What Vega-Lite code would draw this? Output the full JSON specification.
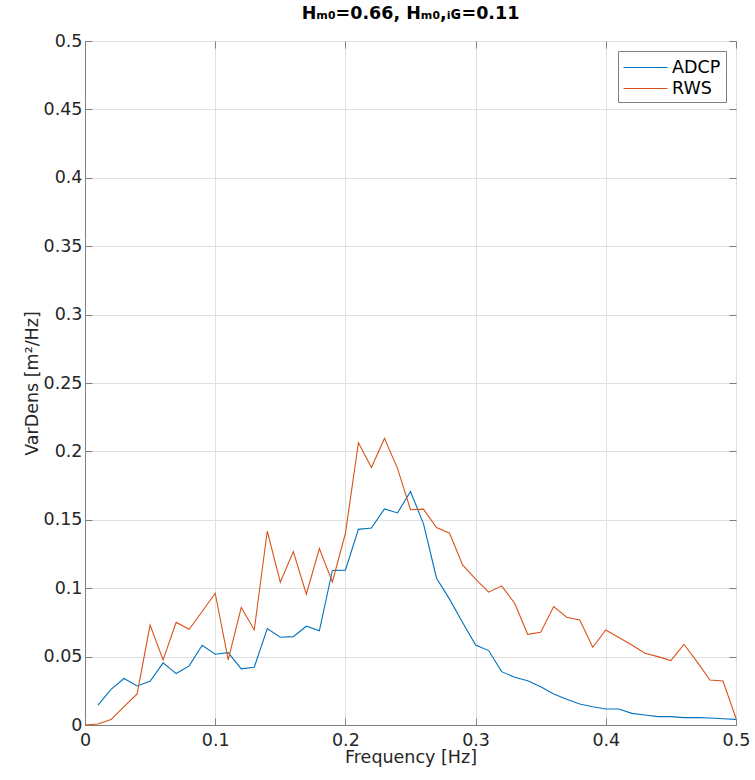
{
  "$schema": "https://vega.github.io/schema/vega-lite/v6.json",
  "autosize": {"type": "none"},
  "padding": {"left": 85, "top": 41, "right": 19, "bottom": 55},
  "width": 651,
  "height": 684,
  "background": "white",
  "title": {
    "text": "Hₘ₀=0.66, Hₘ₀,ᵢɢ=0.11",
    "font": "DejaVu Sans",
    "fontSize": 17.5,
    "fontWeight": "bold",
    "color": "#000000",
    "offset": 10
  },
  "config": {
    "font": "DejaVu Sans",
    "view": {"stroke": "#808080", "strokeWidth": 1},
    "axis": {
      "domainColor": "#808080",
      "tickColor": "#808080",
      "gridColor": "#e0e0e0",
      "labelColor": "#262626",
      "titleColor": "#262626",
      "labelFont": "DejaVu Sans",
      "titleFont": "DejaVu Sans",
      "labelFontSize": 17.5,
      "titleFontSize": 17.5,
      "titleFontWeight": "normal"
    }
  },
  "data": {
    "values": [
      {"f": 0.01, "series": "ADCP", "v": 0.0146},
      {"f": 0.02, "series": "ADCP", "v": 0.026},
      {"f": 0.03, "series": "ADCP", "v": 0.034},
      {"f": 0.04, "series": "ADCP", "v": 0.0285},
      {"f": 0.05, "series": "ADCP", "v": 0.032},
      {"f": 0.06, "series": "ADCP", "v": 0.0454},
      {"f": 0.07, "series": "ADCP", "v": 0.0376},
      {"f": 0.08, "series": "ADCP", "v": 0.0432},
      {"f": 0.09, "series": "ADCP", "v": 0.0583},
      {"f": 0.10, "series": "ADCP", "v": 0.0517},
      {"f": 0.11, "series": "ADCP", "v": 0.0529},
      {"f": 0.12, "series": "ADCP", "v": 0.041},
      {"f": 0.13, "series": "ADCP", "v": 0.0422},
      {"f": 0.14, "series": "ADCP", "v": 0.0705},
      {"f": 0.15, "series": "ADCP", "v": 0.0641},
      {"f": 0.16, "series": "ADCP", "v": 0.0646},
      {"f": 0.17, "series": "ADCP", "v": 0.0722},
      {"f": 0.18, "series": "ADCP", "v": 0.0688},
      {"f": 0.19, "series": "ADCP", "v": 0.113},
      {"f": 0.20, "series": "ADCP", "v": 0.1132},
      {"f": 0.21, "series": "ADCP", "v": 0.143},
      {"f": 0.22, "series": "ADCP", "v": 0.144},
      {"f": 0.23, "series": "ADCP", "v": 0.1579},
      {"f": 0.24, "series": "ADCP", "v": 0.155},
      {"f": 0.25, "series": "ADCP", "v": 0.1707},
      {"f": 0.26, "series": "ADCP", "v": 0.147},
      {"f": 0.27, "series": "ADCP", "v": 0.1073},
      {"f": 0.28, "series": "ADCP", "v": 0.092},
      {"f": 0.29, "series": "ADCP", "v": 0.0749},
      {"f": 0.30, "series": "ADCP", "v": 0.0585},
      {"f": 0.31, "series": "ADCP", "v": 0.0544},
      {"f": 0.32, "series": "ADCP", "v": 0.039},
      {"f": 0.33, "series": "ADCP", "v": 0.0349},
      {"f": 0.34, "series": "ADCP", "v": 0.0324},
      {"f": 0.35, "series": "ADCP", "v": 0.028},
      {"f": 0.36, "series": "ADCP", "v": 0.0227},
      {"f": 0.37, "series": "ADCP", "v": 0.0188},
      {"f": 0.38, "series": "ADCP", "v": 0.0154},
      {"f": 0.39, "series": "ADCP", "v": 0.0134},
      {"f": 0.40, "series": "ADCP", "v": 0.0117},
      {"f": 0.41, "series": "ADCP", "v": 0.0117},
      {"f": 0.42, "series": "ADCP", "v": 0.0085},
      {"f": 0.43, "series": "ADCP", "v": 0.0073},
      {"f": 0.44, "series": "ADCP", "v": 0.0061},
      {"f": 0.45, "series": "ADCP", "v": 0.0061},
      {"f": 0.46, "series": "ADCP", "v": 0.0054},
      {"f": 0.47, "series": "ADCP", "v": 0.0054},
      {"f": 0.48, "series": "ADCP", "v": 0.0051},
      {"f": 0.49, "series": "ADCP", "v": 0.0046},
      {"f": 0.50, "series": "ADCP", "v": 0.0041},
      {"f": 0.00, "series": "RWS", "v": 0.0},
      {"f": 0.01, "series": "RWS", "v": 0.0007},
      {"f": 0.02, "series": "RWS", "v": 0.004},
      {"f": 0.03, "series": "RWS", "v": 0.0134},
      {"f": 0.04, "series": "RWS", "v": 0.0227},
      {"f": 0.05, "series": "RWS", "v": 0.073},
      {"f": 0.06, "series": "RWS", "v": 0.0476},
      {"f": 0.07, "series": "RWS", "v": 0.075},
      {"f": 0.08, "series": "RWS", "v": 0.070},
      {"f": 0.09, "series": "RWS", "v": 0.083},
      {"f": 0.10, "series": "RWS", "v": 0.0963},
      {"f": 0.11, "series": "RWS", "v": 0.0476},
      {"f": 0.12, "series": "RWS", "v": 0.086},
      {"f": 0.13, "series": "RWS", "v": 0.0695},
      {"f": 0.14, "series": "RWS", "v": 0.1418},
      {"f": 0.15, "series": "RWS", "v": 0.1044},
      {"f": 0.16, "series": "RWS", "v": 0.1268},
      {"f": 0.17, "series": "RWS", "v": 0.0956},
      {"f": 0.18, "series": "RWS", "v": 0.129},
      {"f": 0.19, "series": "RWS", "v": 0.1046},
      {"f": 0.20, "series": "RWS", "v": 0.140},
      {"f": 0.21, "series": "RWS", "v": 0.2063},
      {"f": 0.22, "series": "RWS", "v": 0.1883},
      {"f": 0.23, "series": "RWS", "v": 0.2095},
      {"f": 0.24, "series": "RWS", "v": 0.1876},
      {"f": 0.25, "series": "RWS", "v": 0.1574},
      {"f": 0.26, "series": "RWS", "v": 0.1578},
      {"f": 0.27, "series": "RWS", "v": 0.1444},
      {"f": 0.28, "series": "RWS", "v": 0.1402},
      {"f": 0.29, "series": "RWS", "v": 0.117},
      {"f": 0.30, "series": "RWS", "v": 0.1066},
      {"f": 0.31, "series": "RWS", "v": 0.0971},
      {"f": 0.32, "series": "RWS", "v": 0.1017},
      {"f": 0.33, "series": "RWS", "v": 0.089},
      {"f": 0.34, "series": "RWS", "v": 0.0663},
      {"f": 0.35, "series": "RWS", "v": 0.0678},
      {"f": 0.36, "series": "RWS", "v": 0.0866},
      {"f": 0.37, "series": "RWS", "v": 0.0788},
      {"f": 0.38, "series": "RWS", "v": 0.0768},
      {"f": 0.39, "series": "RWS", "v": 0.0568},
      {"f": 0.40, "series": "RWS", "v": 0.0695},
      {"f": 0.41, "series": "RWS", "v": 0.0639},
      {"f": 0.42, "series": "RWS", "v": 0.0585},
      {"f": 0.43, "series": "RWS", "v": 0.0524},
      {"f": 0.44, "series": "RWS", "v": 0.050},
      {"f": 0.45, "series": "RWS", "v": 0.0471},
      {"f": 0.46, "series": "RWS", "v": 0.059},
      {"f": 0.47, "series": "RWS", "v": 0.0463},
      {"f": 0.48, "series": "RWS", "v": 0.0329},
      {"f": 0.49, "series": "RWS", "v": 0.0322},
      {"f": 0.50, "series": "RWS", "v": 0.0049}
    ]
  },
  "layer": [
    {
      "mark": {"type": "line", "strokeWidth": 1.1},
      "encoding": {
        "x": {
          "field": "f",
          "type": "quantitative",
          "scale": {"domain": [0, 0.5], "nice": false},
          "axis": {
            "orient": "bottom",
            "title": "Frequency [Hz]",
            "values": [0, 0.1, 0.2, 0.3, 0.4, 0.5],
            "format": "~g",
            "labelFlush": false,
            "tickSize": -7,
            "labelPadding": 13,
            "titlePadding": 0
          }
        },
        "y": {
          "field": "v",
          "type": "quantitative",
          "scale": {"domain": [0, 0.5], "nice": false},
          "axis": {
            "orient": "left",
            "title": "VarDens [m²/Hz]",
            "values": [0, 0.05, 0.1, 0.15, 0.2, 0.25, 0.3, 0.35, 0.4, 0.45, 0.5],
            "format": "~g",
            "labelFlush": false,
            "tickSize": -7,
            "labelPadding": 10,
            "titlePadding": 2
          }
        },
        "color": {
          "field": "series",
          "type": "nominal",
          "scale": {"domain": ["ADCP", "RWS"], "range": ["#0072BD", "#D95319"]},
          "legend": {
            "title": null,
            "orient": "top-right",
            "offset": 10,
            "symbolType": "M-1,0H3",
            "symbolSize": 484,
            "symbolStrokeWidth": 1,
            "labelFontSize": 17.5,
            "labelColor": "#000000",
            "labelFont": "DejaVu Sans",
            "labelOffset": 26,
            "rowPadding": 1,
            "padding": 5,
            "strokeColor": "#808080",
            "fillColor": "#ffffff"
          }
        }
      }
    },
    {
      "mark": {"type": "point", "opacity": 0},
      "encoding": {
        "x": {
          "field": "f",
          "type": "quantitative",
          "axis": {
            "orient": "top",
            "title": null,
            "labels": false,
            "domain": false,
            "grid": false,
            "values": [0, 0.1, 0.2, 0.3, 0.4, 0.5],
            "tickSize": -7
          }
        },
        "y": {
          "field": "v",
          "type": "quantitative",
          "axis": {
            "orient": "right",
            "title": null,
            "labels": false,
            "domain": false,
            "grid": false,
            "values": [0, 0.05, 0.1, 0.15, 0.2, 0.25, 0.3, 0.35, 0.4, 0.45, 0.5],
            "tickSize": -7
          }
        }
      }
    }
  ],
  "resolve": {"axis": {"x": "independent", "y": "independent"}}
}
